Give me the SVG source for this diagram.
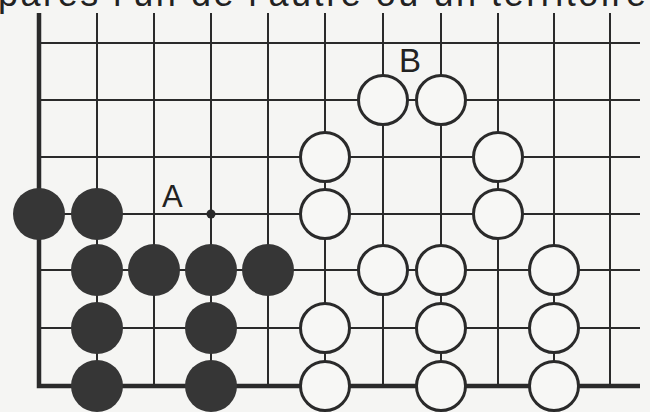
<svg xmlns="http://www.w3.org/2000/svg" width="650" height="412" viewBox="0 0 650 412">
<style>
.g{stroke:#2a2a2a;stroke-width:2;fill:none}
.edge{stroke:#2a2a2a;stroke-width:4.5;fill:none}
.b{fill:#363636}
.w{fill:#f7f7f5;stroke:#2a2a2a;stroke-width:3}
.lbl{font-family:"Liberation Sans",Arial,sans-serif;fill:#222}
</style>
<rect width="650" height="412" fill="#f5f5f3"/>
<text class="lbl" x="-2" y="6" font-size="36" textLength="648" lengthAdjust="spacing">parés l'un de l'autre ou un territoire</text>
<g id="connectors">
<g class="g">
<line x1="97" y1="13" x2="97" y2="386"/>
<line x1="154" y1="13" x2="154" y2="386"/>
<line x1="211" y1="13" x2="211" y2="386"/>
<line x1="268" y1="13" x2="268" y2="386"/>
<line x1="325" y1="13" x2="325" y2="386"/>
<line x1="383" y1="13" x2="383" y2="386"/>
<line x1="441" y1="13" x2="441" y2="386"/>
<line x1="498" y1="13" x2="498" y2="386"/>
<line x1="554" y1="13" x2="554" y2="386"/>
<line x1="610" y1="13" x2="610" y2="386"/>
<line x1="39" y1="43" x2="640" y2="43"/>
<line x1="39" y1="100" x2="640" y2="100"/>
<line x1="39" y1="157" x2="640" y2="157"/>
<line x1="39" y1="214" x2="640" y2="214"/>
<line x1="39" y1="270" x2="640" y2="270"/>
<line x1="39" y1="328" x2="640" y2="328"/>
</g>
<path class="edge" d="M39 13 V386 H640"/>
<circle cx="211" cy="214" r="4.5" fill="#2a2a2a"/>
</g>
<g id="black">
<circle class="b" cx="39" cy="214" r="26"/>
<circle class="b" cx="97" cy="214" r="26"/>
<circle class="b" cx="97" cy="270" r="26"/>
<circle class="b" cx="154" cy="270" r="26"/>
<circle class="b" cx="211" cy="270" r="26"/>
<circle class="b" cx="268" cy="270" r="26"/>
<circle class="b" cx="97" cy="328" r="26"/>
<circle class="b" cx="211" cy="328" r="26"/>
<circle class="b" cx="97" cy="386" r="26"/>
<circle class="b" cx="211" cy="386" r="26"/>
</g>
<g id="white">
<circle class="w" cx="383" cy="100" r="24.5"/>
<circle class="w" cx="441" cy="100" r="24.5"/>
<circle class="w" cx="325" cy="157" r="24.5"/>
<circle class="w" cx="498" cy="157" r="24.5"/>
<circle class="w" cx="325" cy="214" r="24.5"/>
<circle class="w" cx="498" cy="214" r="24.5"/>
<circle class="w" cx="383" cy="270" r="24.5"/>
<circle class="w" cx="441" cy="270" r="24.5"/>
<circle class="w" cx="554" cy="270" r="24.5"/>
<circle class="w" cx="325" cy="328" r="24.5"/>
<circle class="w" cx="441" cy="328" r="24.5"/>
<circle class="w" cx="554" cy="328" r="24.5"/>
<circle class="w" cx="325" cy="386" r="24.5"/>
<circle class="w" cx="441" cy="386" r="24.5"/>
<circle class="w" cx="554" cy="386" r="24.5"/>
</g>
<g id="label-A"><text class="lbl" x="162" y="207" font-size="31">A</text></g>
<g id="label-B"><text class="lbl" x="399" y="72" font-size="33">B</text></g>
</svg>
